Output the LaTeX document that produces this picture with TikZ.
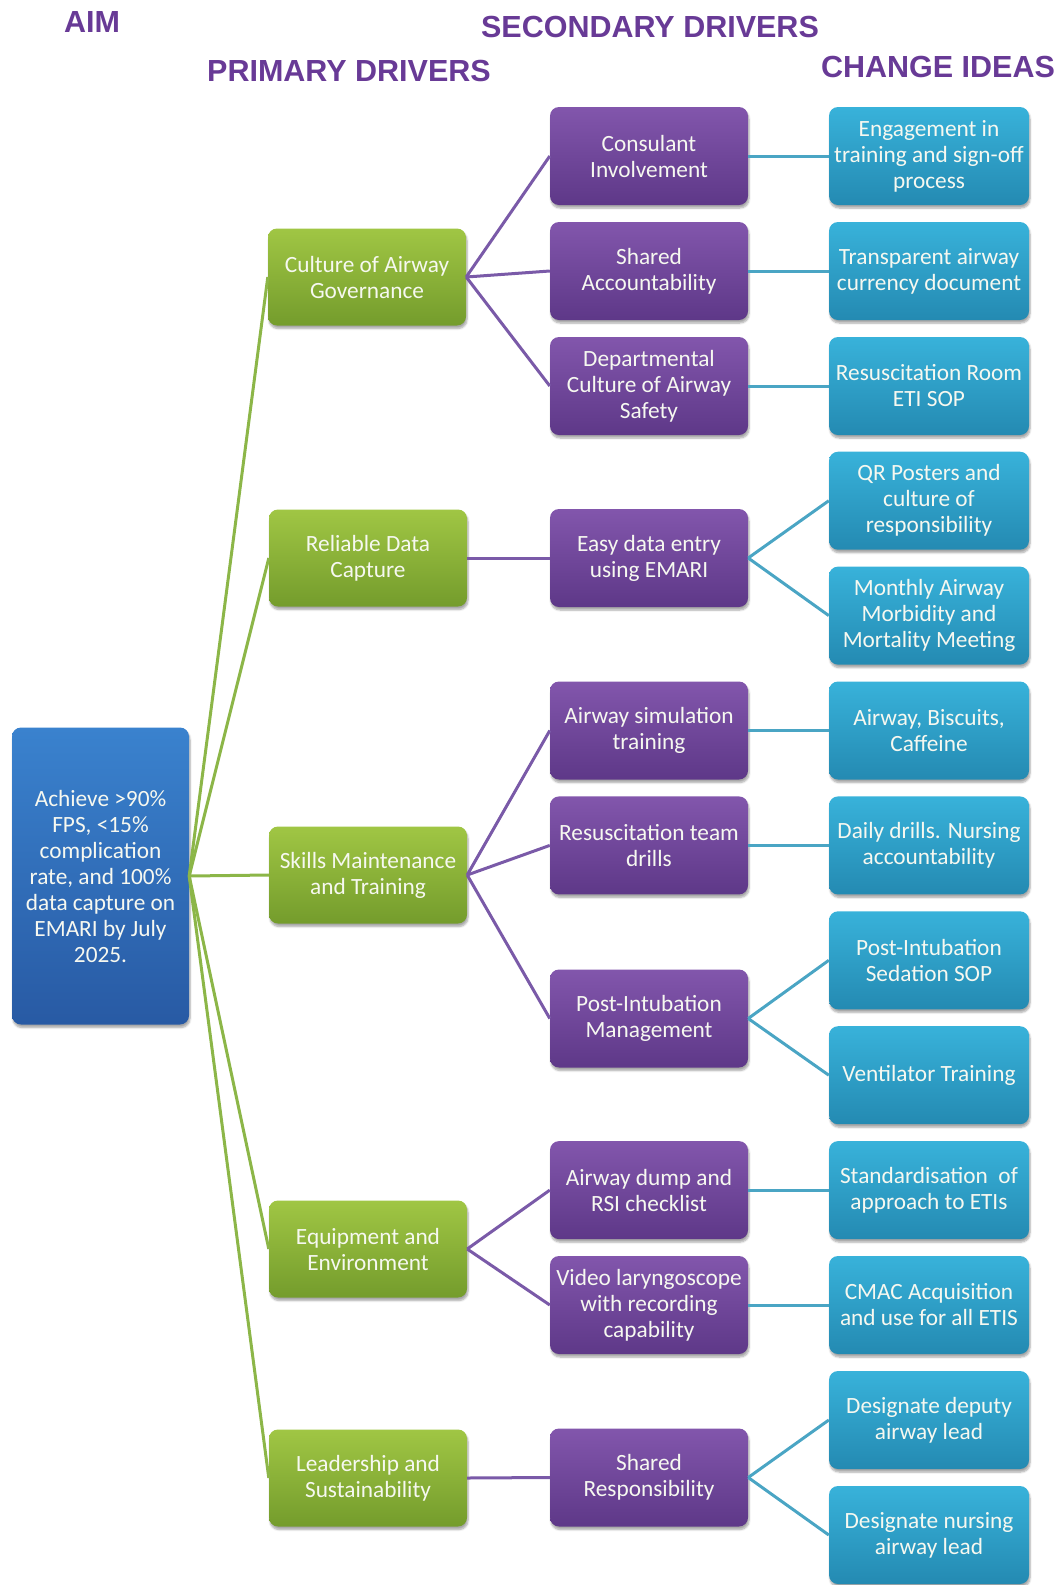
\documentclass[tikz,border=0pt]{standalone}
\usepackage{fontspec}
\setmainfont{Carlito}
\newfontfamily\headfont{Liberation Sans}
\usetikzlibrary{shadows.blur}
\definecolor{hcol}{RGB}{104,58,150}
\definecolor{gtop}{RGB}{160,198,68}
\definecolor{gbot}{RGB}{116,156,44}
\definecolor{ptop}{RGB}{130,86,172}
\definecolor{pbot}{RGB}{94,56,136}
\definecolor{btop}{RGB}{56,178,218}
\definecolor{bbot}{RGB}{36,138,178}
\definecolor{atop}{RGB}{58,130,206}
\definecolor{abot}{RGB}{40,90,164}
\definecolor{gline}{RGB}{140,182,72}
\definecolor{pline}{RGB}{122,90,168}
\definecolor{tline}{RGB}{74,165,196}
\definecolor{txt}{RGB}{246,248,240}
\tikzset{
  base/.style={rounded corners=9pt, align=center, text=txt,
    font=\fontsize{23.3}{26}\selectfont, inner sep=2pt,
    blur shadow={shadow blur steps=6, shadow xshift=1pt, shadow yshift=-3pt, shadow opacity=35}},
  aimbox/.style={base, top color=atop, bottom color=abot, minimum width=177pt, minimum height=297pt},
  prim/.style={base, top color=gtop, bottom color=gbot, minimum width=198pt, minimum height=97pt},
  sec/.style={base, top color=ptop, bottom color=pbot, minimum width=198pt, minimum height=98pt},
  chg/.style={base, top color=btop, bottom color=bbot, minimum width=200pt, minimum height=98pt},
  head/.style={font=\headfont\bfseries\fontsize{30.5}{34}\selectfont, text=hcol, inner sep=0pt},
  gl/.style={draw=gline, line width=3pt},
  pl/.style={draw=pline, line width=3pt},
  tl/.style={draw=tline, line width=3pt}
}
\begin{document}
\begin{tikzpicture}[x=1pt,y=-1pt]
\useasboundingbox (0,0) rectangle (1062,1585);
% headers
\node[head] (hAim) at (92,22) {AIM};
\node[head] (hSec) at (650,27) {SECONDARY DRIVERS};
\node[head] (hPri) at (349,71) {PRIMARY DRIVERS};
\node[head] (hChg) at (938,67) {CHANGE IDEAS};
% aim
\node[aimbox] (aim) at (100.5,876) {Achieve >90\%\\FPS, <15\%\\complication\\rate, and 100\%\\data capture on\\EMARI by July\\2025.};
% primary
\node[prim] (p1) at (367,277) {Culture of Airway\\Governance};
\node[prim] (p2) at (368,558) {Reliable Data\\Capture};
\node[prim] (p3) at (368,875) {Skills Maintenance\\and Training};
\node[prim] (p4) at (368,1249) {Equipment and\\Environment};
\node[prim] (p5) at (368,1478) {Leadership and\\Sustainability};
% secondary
\node[sec] (s1) at (649,156) {Consulant\\Involvement};
\node[sec] (s2) at (649,271) {Shared\\Accountability};
\node[sec] (s3) at (649,386) {Departmental\\Culture of Airway\\Safety};
\node[sec] (s4) at (649,558) {Easy data entry\\using EMARI};
\node[sec] (s5) at (649,730.5) {Airway simulation\\training};
\node[sec] (s6) at (649,845.4) {Resuscitation team\\drills};
\node[sec] (s7) at (649,1018.5) {Post-Intubation\\Management};
\node[sec] (s8) at (649,1190.1) {Airway dump and\\RSI checklist};
\node[sec] (s9) at (649,1305) {Video laryngoscope\\with recording\\capability};
\node[sec] (s10) at (649,1477.5) {Shared\\Responsibility};
% change ideas
\node[chg] (c1) at (929,156) {Engagement in\\training and sign-off\\process};
\node[chg] (c2) at (929,271) {Transparent airway\\currency document};
\node[chg] (c3) at (929,386) {Resuscitation Room\\ETI SOP};
\node[chg] (c4) at (929,500.7) {QR Posters and\\culture of\\responsibility};
\node[chg] (c5) at (929,615.6) {Monthly Airway\\Morbidity and\\Mortality Meeting};
\node[chg] (c6) at (929,730.5) {Airway, Biscuits,\\Caffeine};
\node[chg] (c7) at (929,845.4) {Daily drills. Nursing\\accountability};
\node[chg] (c8) at (929,960.3) {Post-Intubation\\Sedation SOP};
\node[chg] (c9) at (929,1075.2) {Ventilator Training};
\node[chg] (c10) at (929,1190.1) {Standardisation\ \ of\\approach to ETIs};
\node[chg] (c11) at (929,1305) {CMAC Acquisition\\and use for all ETIS};
\node[chg] (c12) at (929,1420) {Designate deputy\\airway lead};
\node[chg] (c13) at (929,1535) {Designate nursing\\airway lead};
% connectors
\foreach \p in {p1,p2,p3,p4,p5} \draw[gl] (aim.east) -- (\p.west);
\draw[pl] (p1.east) -- (s1.west);
\draw[pl] (p1.east) -- (s2.west);
\draw[pl] (p1.east) -- (s3.west);
\draw[pl] (p2.east) -- (s4.west);
\draw[pl] (p3.east) -- (s5.west);
\draw[pl] (p3.east) -- (s6.west);
\draw[pl] (p3.east) -- (s7.west);
\draw[pl] (p4.east) -- (s8.west);
\draw[pl] (p4.east) -- (s9.west);
\draw[pl] (p5.east) -- (s10.west);
\draw[tl] (s1.east) -- (c1.west);
\draw[tl] (s2.east) -- (c2.west);
\draw[tl] (s3.east) -- (c3.west);
\draw[tl] (s4.east) -- (c4.west);
\draw[tl] (s4.east) -- (c5.west);
\draw[tl] (s5.east) -- (c6.west);
\draw[tl] (s6.east) -- (c7.west);
\draw[tl] (s7.east) -- (c8.west);
\draw[tl] (s7.east) -- (c9.west);
\draw[tl] (s8.east) -- (c10.west);
\draw[tl] (s9.east) -- (c11.west);
\draw[tl] (s10.east) -- (c12.west);
\draw[tl] (s10.east) -- (c13.west);
\end{tikzpicture}
\end{document}
